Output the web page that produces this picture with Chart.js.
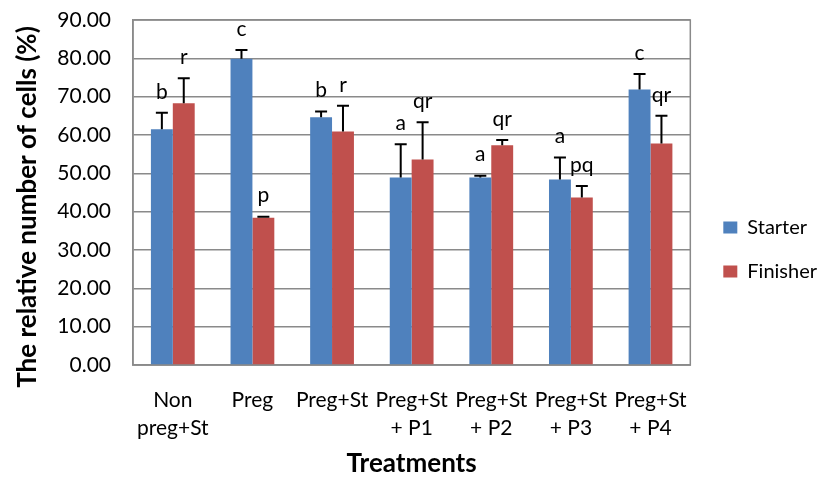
<!DOCTYPE html>
<html>
<head>
<meta charset="utf-8">
<script src="https://cdn.jsdelivr.net/npm/chart.js@4.4.1/dist/chart.umd.min.js"></script>
<style>
  html, body { margin: 0; padding: 0; background: #fff; }
  #wrap { width: 824px; height: 479px; }
</style>
</head>
<body>
<div id="wrap"><canvas id="chart" width="824" height="479"></canvas></div>
<script>
// categories and values
const treatments = [["Non", "preg+St"], "Preg", "Preg+St", ["Preg+St", "+ P1"], ["Preg+St", "+ P2"], ["Preg+St", "+ P3"], ["Preg+St", "+ P4"]];
const starter = [61.5, 79.9, 64.6, 48.9, 48.9, 48.4, 71.9];
const finisher = [68.3, 38.4, 60.9, 53.6, 57.3, 43.7, 57.8];
const starterErr = [4.3, 2.3, 1.5, 8.7, 0.5, 5.7, 4.0];
const finisherErr = [6.5, 0.3, 6.7, 9.7, 1.4, 3.0, 7.2];
const starterLetters = ["b", "c", "b", "a", "a", "a", "c"];
const finisherLetters = ["r", "p", "r", "qr", "qr", "pq", "qr"];
const yTicks = [0, 10, 20, 30, 40, 50, 60, 70, 80, 90];
const yTitle = "The relative number of cells (%)";

const FONT = "Lato, 'Open Sans', sans-serif";
const GRID = "#8a8a8a";

// plot frame, plus-only error bars, letters, y title
const extras = {
    id: "extras",
    afterLayout(chart) {
        // legend sits a little further right than chart.js puts it
        chart.legend.left += 9;
        chart.legend.right += 9;
    },
    beforeDatasetsDraw(chart) {
        const a = chart.chartArea;
        const ctx = chart.ctx;
        ctx.save();
        ctx.strokeStyle = GRID;
        ctx.lineWidth = 1.5;
        ctx.strokeRect(a.left, a.top, a.right - a.left, a.bottom - a.top);
        ctx.restore();
    },
    afterDatasetsDraw(chart) {
        const ctx = chart.ctx;
        const y = chart.scales.y;
        const errs = [starterErr, finisherErr];
        const letters = [starterLetters, finisherLetters];
        ctx.save();
        chart.data.datasets.forEach((ds, di) => {
            const meta = chart.getDatasetMeta(di);
            meta.data.forEach((bar, i) => {
                const top = y.getPixelForValue(ds.data[i] + errs[di][i]);
                ctx.strokeStyle = "#000";
                ctx.lineWidth = 2;
                ctx.beginPath();
                ctx.moveTo(bar.x, bar.y);
                ctx.lineTo(bar.x, top);
                ctx.moveTo(bar.x - 6, top);
                ctx.lineTo(bar.x + 6, top);
                ctx.stroke();
                ctx.fillStyle = "#000";
                ctx.font = "21px " + FONT;
                ctx.textAlign = "center";
                ctx.textBaseline = "middle";
                ctx.fillText(letters[di][i], bar.x, top - 21);
            });
        });
        ctx.restore();
    },
    afterDraw(chart) {
        const ctx = chart.ctx;
        ctx.save();
        ctx.translate(28, 207);
        ctx.rotate(-Math.PI / 2);
        ctx.fillStyle = "#000";
        ctx.font = "bold 26px " + FONT;
        ctx.textAlign = "center";
        ctx.textBaseline = "middle";
        ctx.fillText(yTitle, 0, 0);
        ctx.restore();
    }
};

const chart = new Chart(document.getElementById("chart").getContext("2d"), {
    type: "bar",
    data: {
        labels: treatments,
        datasets: [
            { label: "Starter", data: starter, backgroundColor: "#4f81bd" },
            { label: "Finisher", data: finisher, backgroundColor: "#c0504d" }
        ]
    },
    options: {
        responsive: false,
        animation: false,
        devicePixelRatio: 1,
        layout: { padding: { left: 16, top: 20, right: 6, bottom: 0 } },
        datasets: { bar: { categoryPercentage: 0.55, barPercentage: 1.0 } },
        plugins: {
            tooltip: { enabled: false },
            legend: {
                position: "right",
                labels: {
                    boxWidth: 14,
                    boxHeight: 12,
                    padding: 24,
                    color: "#000",
                    font: { family: FONT, size: 20 }
                }
            }
        },
        scales: {
            x: {
                grid: { display: false },
                border: { color: GRID, width: 1.5 },
                ticks: {
                    color: "#000",
                    font: { family: FONT, size: 21, lineHeight: 1.3 },
                    maxRotation: 0,
                    autoSkip: false,
                    padding: 14
                },
                title: {
                    display: true,
                    text: "Treatments",
                    color: "#000",
                    font: { family: FONT, size: 26, weight: "bold", lineHeight: 1.0 },
                    padding: { top: 0, bottom: 2 }
                },
                afterFit(scale) { scale.height = 114; }
            },
            y: {
                min: 0,
                max: 90,
                afterBuildTicks(scale) { scale.ticks = yTicks.map(v => ({ value: v })); },
                // invisible tick marks give the label gap without padding the top
                grid: { color: GRID, lineWidth: 1.5, drawTicks: true, tickLength: 22, tickColor: "rgba(0,0,0,0)" },
                border: { color: GRID, width: 1.5 },
                ticks: {
                    color: "#000",
                    font: { family: FONT, size: 21 },
                    padding: 0,
                    callback: v => v.toFixed(2)
                },
                afterFit(scale) { scale.width = 117; }
            }
        }
    },
    plugins: [extras]
});
</script>
</body>
</html>
